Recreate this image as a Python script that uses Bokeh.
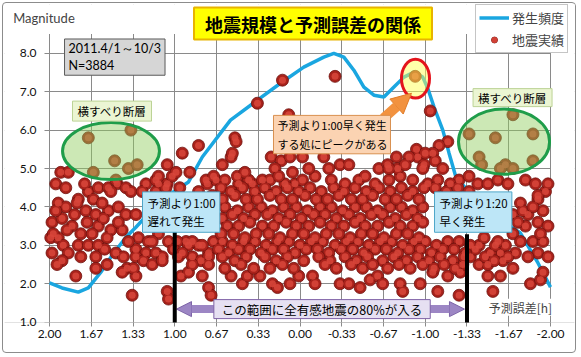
from bokeh.plotting import figure
from bokeh.models import (Range1d, FixedTicker, CustomJSTickFormatter, Label, Arrow,
                          NormalHead, Legend, LegendItem, BoxAnnotation)
from bokeh.embed import file_html
from bokeh.resources import INLINE

JP = "Noto Sans CJK JP"
LAT = "Lato"

# ---------------- data ----------------
x_tick_values = [2.0, 1.6667, 1.3333, 1.0, 0.6667, 0.3333, 0.0,
                 -0.3333, -0.6667, -1.0, -1.3333, -1.6667, -2.0]
y_tick_values = [1, 2, 3, 4, 5, 6, 7, 8]

# 発生頻度 curve (drawn on the magnitude scale)
freq_err = [2.00, 1.90, 1.77, 1.69, 1.59, 1.50, 1.39, 1.31, 1.11, 0.89,
            0.78, 0.555, 0.34, 0.156, -0.03, -0.19, -0.27, -0.35, -0.43, -0.51,
            -0.59, -0.67, -0.75, -0.83, -0.91, -0.98, -1.02, -1.07, -1.14, -1.19,
            -1.24, -1.30, -1.44, -1.60, -1.76, -1.90, -2.00]
freq_val = [2.02, 1.89, 1.78, 1.89, 2.30, 2.74, 3.21, 3.47, 4.18, 4.65,
            5.30, 6.26, 6.78, 7.22, 7.64, 7.90, 8.00, 7.90, 7.56, 7.12,
            6.91, 6.86, 7.12, 7.38, 7.51, 7.38, 7.09, 6.60, 6.00, 5.40,
            4.83, 4.57, 4.05, 3.66, 3.32, 2.54, 1.91]

# 地震実績 (error [h], magnitude)
quakes_upper = [(0.14, 7.3), (-0.28, 7.4), (0.34, 6.7), (0.09, 6.4), (-1.04, 6.5), (-0.92, 7.4),
                (0.52, 5.8), (0.51, 5.7), (0.55, 5.3), (0.62, 5.1), (0.69, 4.8), (0.23, 5.3),
                (0.15, 5.2), (0.08, 5.3), (-0.02, 5.3), (-0.19, 5.3), (-0.32, 5.1), (-0.39, 5.1),
                (-0.63, 5.0), (-1.18, 5.7), (-1.11, 5.6), (-0.93, 5.5), (-0.94, 5.3), (-0.87, 5.3),
                (-0.77, 5.3), (-1.06, 5.4), (-1.08, 5.2), (-0.99, 5.1), (-0.78, 5.0), (-0.70, 5.1),
                (0.94, 5.4), (0.81, 5.6), (1.06, 5.1), (0.88, 4.9), (0.99, 4.9), (1.13, 4.8),
                (0.54, 5.4), (0.44, 4.9), (0.20, 5.0), (0.17, 4.8), (0.06, 4.9), (-0.07, 5.0),
                (-0.23, 5.0), (-0.52, 4.8), (-0.71, 5.0), (-0.84, 5.1), (-1.00, 5.4), (-0.98, 5.0),
                (-1.14, 5.0), (-1.35, 4.8)]

quakes_strike_left = [(1.69, 5.8), (1.35, 6.0), (1.48, 5.2), (1.37, 5.0), (1.30, 5.1), (1.65, 4.9)]
quakes_strike_right = [(-1.70, 6.4), (-1.35, 5.9), (-1.56, 5.8), (-1.86, 5.9), (-1.43, 5.3),
                       (-1.64, 5.1), (-1.86, 5.2), (-1.60, 5.0), (-1.70, 5.0), (-1.45, 5.1)]

quakes_left = [(1.91, 4.9), (1.85, 4.9), (1.95, 4.6), (1.87, 4.5), (1.69, 4.4), (1.61, 4.5),
               (1.53, 4.5), (1.46, 4.6), (1.39, 4.5), (1.35, 4.4), (1.65, 4.2), (1.77, 4.2),
               (1.93, 4.1), (1.23, 4.6), (1.13, 4.6), (1.06, 4.6), (1.15, 4.4), (0.74, 4.6),
               (0.67, 4.7), (0.49, 4.6), (0.38, 4.6), (0.30, 4.7), (0.04, 4.6), (1.47, 4.7),
               (1.51, 4.4), (1.87, 4.0), (1.78, 4.1), (1.71, 3.9), (1.63, 3.8), (1.53, 3.9),
               (1.45, 4.0), (1.39, 3.8), (1.31, 3.8), (1.98, 3.6), (1.90, 3.7), (1.82, 3.5),
               (1.70, 3.6), (1.61, 3.5), (1.51, 3.4), (1.42, 3.4), (1.99, 3.2), (1.93, 3.2),
               (1.98, 2.8), (1.89, 3.0), (1.85, 2.8), (1.77, 3.0), (1.75, 2.7), (1.69, 3.0),
               (1.61, 3.0), (1.54, 3.2), (1.63, 2.7), (1.47, 2.8), (1.41, 2.7), (1.31, 2.9),
               (1.29, 3.2), (1.21, 3.1), (1.23, 2.8), (1.15, 2.8), (1.10, 2.7), (1.31, 2.7),
               (0.91, 3.1), (0.81, 3.0), (0.73, 2.8), (0.86, 2.7), (0.97, 2.7), (0.79, 2.6),
               (1.13, 3.3), (1.05, 3.1), (1.38, 2.4), (1.15, 4.7), (1.02, 4.8), (1.26, 4.4),
               (1.07, 4.5), (0.75, 4.7), (0.81, 4.4), (0.70, 4.3), (0.98, 3.1), (0.89, 3.0),
               (0.69, 3.1), (0.73, 2.7), (1.97, 3.3), (1.86, 3.4), (1.18, 3.1),
               (1.95, 3.9), (1.80, 3.8), (1.58, 4.1), (1.72, 4.6), (1.57, 3.7), (1.45, 3.6),
               (1.75, 3.3), (1.66, 3.3), (1.56, 2.9), (1.37, 3.1), (1.25, 2.6), (1.90, 2.6)]

quakes_low = [(1.34, 1.7), (1.06, 1.8), (1.05, 1.6), (1.79, 2.2), (1.63, 2.4), (1.54, 2.5),
              (1.42, 2.3), (1.31, 2.2), (1.94, 2.5), (1.33, 2.4), (1.18, 2.5), (1.10, 2.6),
              (0.95, 2.2), (0.89, 2.3), (0.78, 2.2), (0.73, 2.5), (0.73, 1.9), (0.86, 2.5),
              (0.71, 1.7), (0.46, 2.0), (0.32, 2.2), (0.22, 2.0), (0.18, 1.9), (0.08, 2.0),
              (0.01, 2.2), (-0.10, 2.2), (-0.12, 2.0), (-0.32, 2.0), (-0.39, 2.0), (-0.48, 1.9),
              (-0.56, 2.1), (-0.62, 2.2), (-0.66, 2.0), (0.55, 2.2), (0.42, 2.2), (0.37, 2.4),
              (-0.80, 2.0), (-0.82, 1.8), (-0.96, 2.0), (-1.06, 2.3), (-1.18, 2.2), (-1.28, 2.3),
              (-1.30, 2.5), (-1.54, 1.8), (-1.50, 2.2), (-1.60, 2.2), (-1.43, 2.5), (-1.70, 2.4),
              (-1.84, 2.0), (-1.92, 2.1), (-1.94, 2.3), (-1.27, 1.7), (-1.10, 1.8)]

quakes_right = [(-1.27, 4.7), (-1.42, 4.6), (-1.50, 4.6), (-1.58, 4.7), (-1.66, 4.6), (-1.80, 4.7),
                (-1.88, 4.6), (-1.96, 4.4), (-1.90, 4.2), (-1.98, 4.6), (-1.90, 4.3), (-1.76, 4.1),
                (-1.70, 3.8), (-1.82, 3.8), (-1.90, 3.6), (-1.98, 3.5), (-1.70, 3.3), (-1.76, 3.1),
                (-1.86, 3.1), (-1.94, 3.1), (-1.90, 2.8), (-1.98, 2.7), (-1.82, 2.7), (-1.72, 2.8),
                (-1.60, 2.8), (-1.62, 2.6), (-1.52, 2.8), (-1.50, 2.5), (-1.43, 3.0), (-1.36, 2.7),
                (-1.56, 3.0), (-1.47, 3.2), (-1.64, 3.0),
                (-1.40, 2.9), (-1.48, 2.7), (-1.55, 2.6), (-1.66, 2.7), (-1.58, 3.1),
                (-1.78, 3.9), (-1.94, 3.9), (-1.86, 4.0), (-1.80, 3.5), (-1.92, 3.3), (-1.74, 3.6)]

quakes_band_top = [(0.60, 4.7), (0.50, 4.8), (0.41, 4.7), (0.24, 4.7), (0.12, 4.6), (-0.02, 4.7),
                   (-0.12, 4.8), (-0.25, 4.7), (-0.36, 4.6), (-0.47, 4.7), (-0.60, 4.6), (-0.71, 4.7),
                   (-0.80, 4.8), (-0.90, 4.7), (-1.02, 4.6), (-1.10, 4.7), (-1.20, 4.6),
                   (0.96, 4.5), (0.63, 4.5), (0.55, 4.4), (0.46, 4.5), (0.36, 4.4), (0.28, 4.5),
                   (0.19, 4.4), (0.10, 4.5), (0.01, 4.4), (-0.08, 4.5), (-0.17, 4.4), (-0.27, 4.5),
                   (-0.35, 4.4), (-0.44, 4.5), (-0.53, 4.4), (-0.63, 4.5), (-0.72, 4.4), (-0.81, 4.5),
                   (-0.90, 4.4), (-0.99, 4.5), (-1.08, 4.5), (-1.17, 4.4), (-1.26, 4.5), (-1.35, 4.4),
                   (0.62, 4.2), (0.52, 4.3), (0.43, 4.2), (0.34, 4.2), (0.24, 4.3), (0.15, 4.2),
                   (0.06, 4.2), (-0.04, 4.3), (-0.13, 4.2), (-0.22, 4.2), (-0.31, 4.3), (-0.41, 4.2),
                   (-0.50, 4.2), (-0.58, 4.3), (-0.68, 4.2), (-0.77, 4.2), (-0.86, 4.3), (-0.95, 4.2)]

quakes_band_mid = [(0.60, 4.0), (0.50, 3.9), (0.41, 4.0), (0.31, 4.0), (0.22, 3.9), (0.13, 4.0),
                   (0.03, 4.0), (-0.06, 3.9), (-0.16, 4.0), (-0.25, 4.0), (-0.34, 3.9), (-0.44, 4.0),
                   (-0.53, 4.0), (-0.62, 3.9), (-0.72, 4.0), (-0.81, 4.0), (-0.90, 3.9), (-0.98, 4.0),
                   (0.62, 3.7), (0.54, 3.8), (0.45, 3.7), (0.36, 3.8), (0.26, 3.8), (0.17, 3.7),
                   (0.08, 3.8), (-0.01, 3.7), (-0.11, 3.8), (-0.20, 3.8), (-0.29, 3.7), (-0.39, 3.8),
                   (-0.48, 3.7), (-0.57, 3.8), (-0.66, 3.8), (-0.76, 3.7), (-0.85, 3.8), (-0.94, 3.7),
                   (0.58, 3.5), (0.49, 3.5), (0.40, 3.6), (0.30, 3.5), (0.21, 3.5), (0.11, 3.6),
                   (0.03, 3.5), (-0.07, 3.5), (-0.16, 3.6), (-0.25, 3.5), (-0.35, 3.5), (-0.44, 3.6),
                   (-0.52, 3.5), (-0.62, 3.5), (-0.71, 3.6), (-0.80, 3.5), (-0.90, 3.5), (-0.98, 3.6),
                   (0.63, 3.3), (0.53, 3.3), (0.44, 3.2), (0.35, 3.3), (0.25, 3.3), (0.16, 3.2),
                   (0.06, 3.3), (-0.03, 3.3), (-0.12, 3.2), (-0.21, 3.3), (-0.31, 3.3), (-0.40, 3.2),
                   (-0.49, 3.3), (-0.58, 3.3), (-0.67, 3.2), (-0.77, 3.3), (-0.86, 3.3), (-0.95, 3.2)]

quakes_band_low = [(0.86, 3.1), (0.78, 3.0), (0.62, 3.1), (0.54, 3.0), (0.45, 3.1), (0.36, 3.1),
                   (0.27, 3.0), (0.18, 3.1), (0.09, 3.1), (0.00, 3.0), (-0.09, 3.1), (-0.18, 3.1),
                   (-0.28, 3.0), (-0.37, 3.1), (-0.46, 3.1), (-0.55, 3.0), (-0.64, 3.1), (-0.73, 3.1),
                   (-0.82, 3.0), (-0.91, 3.1), (-1.00, 3.1), (-1.09, 3.0), (-1.18, 3.1), (-1.27, 3.1),
                   (-1.36, 3.0),
                   (1.01, 2.9), (0.94, 2.8), (0.65, 2.9), (0.57, 2.8), (0.49, 2.9), (0.40, 2.9),
                   (0.31, 2.8), (0.22, 2.9), (0.13, 2.9), (0.04, 2.8), (-0.05, 2.9), (-0.14, 2.9),
                   (-0.23, 2.8), (-0.33, 2.9), (-0.42, 2.9), (-0.51, 2.8), (-0.60, 2.9), (-0.69, 2.9),
                   (-0.78, 2.8), (-0.87, 2.9), (-0.96, 2.9), (-1.05, 2.8), (-1.14, 2.9), (-1.23, 2.9),
                   (-1.32, 2.8),
                   (0.62, 2.7), (0.52, 2.6), (0.43, 2.7), (0.28, 2.7), (0.19, 2.6), (0.10, 2.7),
                   (-0.03, 2.6), (-0.15, 2.7), (-0.24, 2.6), (-0.36, 2.7), (-0.45, 2.6), (-0.54, 2.7),
                   (-0.66, 2.6), (-0.75, 2.7), (-0.85, 2.6), (-0.94, 2.7), (-1.03, 2.6), (-1.12, 2.7),
                   (-1.22, 2.6), (-1.31, 2.7),
                   (0.60, 2.4), (0.47, 2.5), (0.24, 2.4), (0.14, 2.5), (0.05, 2.4), (-0.20, 2.5),
                   (-0.29, 2.4), (-0.41, 2.5), (-0.50, 2.4), (-0.58, 2.5), (-0.70, 2.4), (-0.79, 2.5),
                   (-0.88, 2.4), (-0.98, 2.5), (-1.07, 2.4), (-1.15, 2.5), (-1.24, 2.4)]

all_quakes = (quakes_left + quakes_low + quakes_right + quakes_band_low + quakes_band_mid
              + quakes_band_top + quakes_upper + quakes_strike_left + quakes_strike_right)
q_err = [e for e, m in all_quakes]
q_mag = [m for e, m in all_quakes]

# ---------------- figure ----------------
# frame covers the whole chart area; data window is x 2..-2, y 1..8.5
p = figure(width=578, height=355, x_range=Range1d(2.3593, -2.1916), y_range=Range1d(0.99, 9.271),
           output_backend="svg", toolbar_location=None,
           min_border_left=4, min_border_right=4, min_border_top=4, min_border_bottom=33)
p.outline_line_color = None
p.background_fill_color = "white"
p.border_fill_color = "white"
p.border_fill_alpha = 0
p.styles = {"outline": "1px solid #8c8c8c", "outline-offset": "-3px", "border-radius": "6px"}

GRID = "#8a8a8a"
xt = FixedTicker(ticks=x_tick_values)
yt = FixedTicker(ticks=y_tick_values)
p.xaxis.ticker = xt
p.yaxis.ticker = yt
p.xgrid.ticker = xt
p.ygrid.ticker = yt
p.xgrid.grid_line_color = GRID
p.ygrid.grid_line_color = GRID
p.xaxis.formatter = CustomJSTickFormatter(code="return tick.toFixed(2);")
p.yaxis.formatter = CustomJSTickFormatter(code="return tick.toFixed(1);")
for ax in (p.xaxis[0], p.yaxis[0]):
    ax.axis_line_color = None
    ax.minor_tick_line_color = None
    ax.major_tick_in = 0
    ax.major_label_text_font = LAT
    ax.major_label_text_font_size = "12px"
    ax.major_label_text_color = "#111111"
p.xaxis.major_tick_line_color = GRID
p.xaxis.major_tick_out = 4
p.xaxis.major_label_standoff = 3
p.yaxis.major_tick_line_color = None
p.yaxis.major_tick_out = 0
p.yaxis.major_label_standoff = -32

# white covers outside the data window (hide grid beyond it; left cover stops 5px short -> ticks)
for l, r, b, t in [(2.6, 2.04, 0.0, 10.0), (-2.004, -2.6, 0.0, 10.0), (2.6, -2.6, 8.5, 10.0)]:
    p.add_layout(BoxAnnotation(left=l, right=r, bottom=b, top=t, fill_color="white",
                               fill_alpha=1, line_color=None, level="underlay"))

# frequency line
r_line = p.line(freq_err, freq_val, line_color="#1aa6e0", line_width=3.5)

# quake spheres
r_dot = p.scatter(q_err, q_mag, marker="circle", size=12, fill_color="#a8221b",
                  line_color="#6e120e", line_width=0.8)
r_hl = p.scatter(q_err, q_mag, marker="circle", size=7, fill_color="#d9473b",
                 fill_alpha=0.85, line_color=None)

# ellipses
p.ellipse(x=[1.509, -1.629], y=[5.453, 5.70], width=[0.774, 0.727], height=[1.484, 1.693],
          fill_color="#8fcb5a", fill_alpha=0.45, line_color="#1f9d4a", line_width=3)
p.ellipse(x=[-0.922], y=[7.341], width=[0.224], height=[1.016],
          fill_color="#ffff55", fill_alpha=0.5, line_color="#e4141c", line_width=3)

# arrows / lines
p.add_layout(Arrow(x_start=-0.667, y_start=6.31, x_end=-0.89, y_end=6.96,
                   line_color="#f2923f", line_width=10,
                   end=NormalHead(size=20, fill_color="#f2923f", line_color="#e07b28")))
p.add_layout(Arrow(x_start=0.986, y_start=1.339, x_end=-1.313, y_end=1.339,
                   line_color="#9c86c4", line_width=8,
                   start=NormalHead(size=15, fill_color="#9c86c4", line_color="#7d64a8"),
                   end=NormalHead(size=15, fill_color="#9c86c4", line_color="#7d64a8")))
p.add_layout(Arrow(x_start=1.0, y_start=3.344, x_end=1.0, y_end=0.896,
                   line_color="black", line_width=4, end=None))
p.add_layout(Arrow(x_start=-1.3333, y_start=3.29, x_end=-1.3333, y_end=0.87,
                   line_color="black", line_width=4, end=None))


def box(x, y, text, size, fill, border, pad, align="center", font=JP, bold=False, lh=1.15, bw=1):
    return Label(x=x, y=y, text=text, text_align=align, text_baseline="middle",
                 text_font=font, text_font_size=f"{size}px",
                 text_font_style="bold" if bold else "normal", text_color="black",
                 background_fill_color=fill, border_line_color=border, border_line_width=bw,
                 padding=dict(left=pad[0], right=pad[1], top=pad[2], bottom=pad[3]),
                 text_line_height=lh)


p.add_layout(box(-0.104, 8.773, "地震規模と予測誤差の関係", 18, "#ffff00", "#e8b400",
                 (11, 11, 3, 3), bold=True, bw=2))
p.add_layout(box(1.880, 7.901, "2011.4/1～10/3\nN=3884", 12.5, "#d6d6d6", "#5a5a5a",
                 (4, 4, 2, 2), align="left", font=LAT))
p.add_layout(box(1.501, 6.495, "横すべり断層", 11.5, "#ebf5d3", "#bcd396", (5, 5, 2, 2)))
p.add_layout(box(-1.697, 6.846, "横すべり断層", 11.5, "#ebf5d3", "#bcd396", (5, 5, 1, 1)))
p.add_layout(box(0.2116, 5.883, "予測より1:00早く発生\nする処にピークがある", 11, "#fbd3b2",
                 "#d9904f", (4, 3, 2, 2), align="left"))
p.add_layout(box(1.2575, 3.865, "予測より1:00\n遅れて発生", 11.5, "#bde6f7", "#4ea6c9",
                 (5, 4, 3, 3), align="left"))
p.add_layout(box(-1.074, 3.865, "予測より1:20\n早く発生", 11.5, "#bde6f7", "#4ea6c9",
                 (5, 4, 3, 3), align="left"))
p.add_layout(box(-0.176, 1.339, "この範囲に全有感地震の80%が入る", 12.5, "#e6e0f2", "#7f62a6",
                 (8, 8, 0, 0)))
p.add_layout(Label(x=-1.760, y=1.39, text="予測誤差[h]", text_align="center",
                   text_baseline="middle", text_font=JP, text_font_size="12px",
                   background_fill_color="white"))
p.add_layout(Label(x=2.044, y=8.917, text="Magnitude", text_align="center",
                   text_baseline="middle", text_font=LAT, text_font_size="13px"))

legend = Legend(items=[LegendItem(label="発生頻度", renderers=[r_line]),
                       LegendItem(label="地震実績", renderers=[r_dot, r_hl])],
                location=(471, 269), orientation="vertical",
                label_text_font=JP, label_text_font_size="13px",
                glyph_width=30, glyph_height=15, label_height=15, label_standoff=3,
                spacing=3, padding=3, margin=0,
                border_line_color="#8c8c8c", background_fill_color="white",
                background_fill_alpha=1)
p.add_layout(legend)

open("out.html", "w").write(file_html(p, INLINE))
